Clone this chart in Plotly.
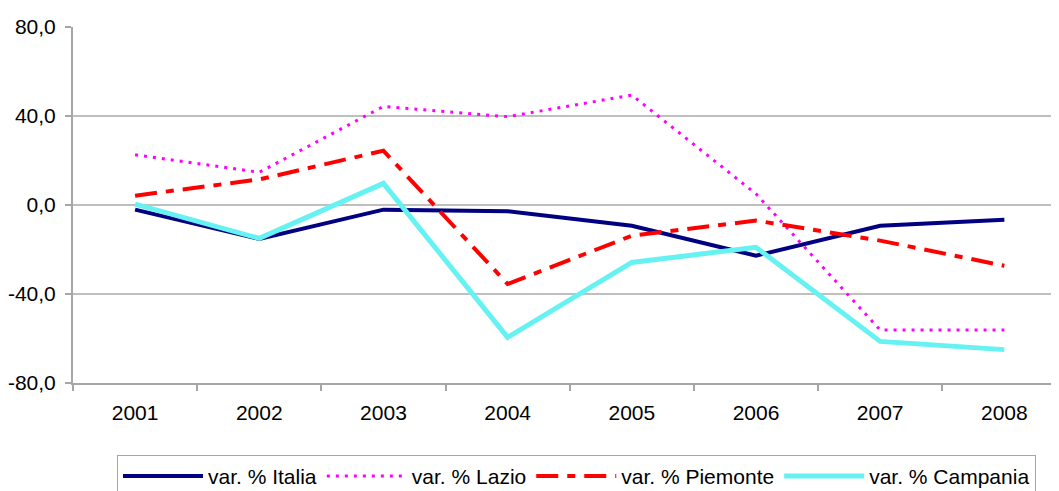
import plotly.graph_objects as go

years = [2001, 2002, 2003, 2004, 2005, 2006, 2007, 2008]
italia = [-2.1, -15.3, -2.1, -2.8, -9.3, -22.8, -9.3, -6.6]
lazio = [22.6, 14.7, 44.3, 39.7, 49.4, 5.0, -56.2, -56.2]
piemonte = [4.2, 11.5, 24.4, -35.5, -13.8, -7.0, -16.0, -27.3]
campania = [0.4, -15.0, 9.7, -59.5, -25.8, -19.0, -61.3, -65.0]

y_tickvals = [80, 40, 0, -40, -80]
y_ticktext = ["80,0", "40,0", "0,0", "-40,0", "-80,0"]
x_ticktext = [str(y) for y in years]
x_boundaries = [y - 0.5 for y in years] + [years[-1] + 0.5]

FONT = "Liberation Sans, Arial, sans-serif"

fig = go.Figure()
fig.add_trace(go.Scatter(x=years, y=italia, mode="lines", name="var. % Italia",
                         line=dict(color="#000080", width=4)))
fig.add_trace(go.Scatter(x=years, y=lazio, mode="lines", name="var. % Lazio",
                         line=dict(color="#FF00FF", width=3, dash="3px,6px")))
fig.add_trace(go.Scatter(x=years, y=piemonte, mode="lines", name="var. % Piemonte",
                         line=dict(color="#FF0000", width=4, dash="22px,9px,8px,9px")))
fig.add_trace(go.Scatter(x=years, y=campania, mode="lines", name="var. % Campania",
                         line=dict(color="#66F2F2", width=5)))

# page body has an 8px margin, so the figure is sized/offset to compensate
fig.update_layout(
    width=1051, height=483,
    margin=dict(l=65, r=0, t=19, b=108, autoexpand=False),
    paper_bgcolor="white", plot_bgcolor="white",
    font=dict(family=FONT, size=21, color="black"),
    showlegend=True,
    legend=dict(orientation="h", x=0.0446, y=-0.202, xanchor="left", yanchor="top",
                bordercolor="#a6a6a6", borderwidth=1, bgcolor="white",
                font=dict(family=FONT, size=21), itemwidth=80, tracegroupgap=0),
    xaxis=dict(range=[2000.5, 2008.44], tickmode="array", tickvals=years, ticktext=x_ticktext,
               ticks="", showgrid=False, zeroline=False, showline=True, linecolor="#a6a6a6",
               linewidth=2, tickfont=dict(size=21), ticklabelstandoff=10,
               minor=dict(tickmode="array", tickvals=x_boundaries, ticks="outside",
                          ticklen=6, tickcolor="#a6a6a6", tickwidth=2, showgrid=False)),
    yaxis=dict(range=[-80, 80], tickmode="array", tickvals=y_tickvals, ticktext=y_ticktext,
               ticks="outside", ticklen=6, tickcolor="#a6a6a6", tickwidth=2,
               showgrid=True, gridcolor="#bfbfbf", gridwidth=1.5, zeroline=False,
               showline=True, linecolor="#a6a6a6", linewidth=2, tickfont=dict(size=21),
               ticklabelstandoff=5),
)

fig.write_html("out.html")
